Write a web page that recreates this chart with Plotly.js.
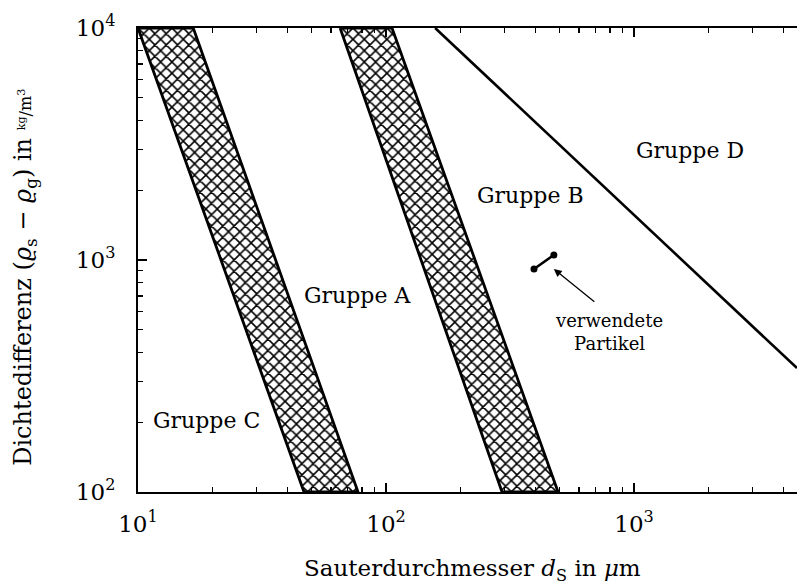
<!DOCTYPE html>
<html><head><meta charset="utf-8">
<script src="https://cdn.plot.ly/plotly-3.0.1.min.js"></script>
<style>html,body{margin:0;padding:0;background:#fff;}#chart{width:797px;height:585px;}</style>
</head><body><div id="chart"></div>
<script>
// Boundary between Gruppe C and A (hatched band), polygon corners
const bandCA_x = [10, 16.7, 77.1, 46.7];
const bandCA_y = [10000, 10000, 100, 100];
// Boundary between Gruppe A and B (hatched band)
const bandAB_x = [65.3, 105.7, 494, 293.6];
const bandAB_y = [10000, 10000, 100, 100];
// Boundary between Gruppe B and D
const lineBD_x = [157.8, 4540];
const lineBD_y = [10000, 342];
// Used particles
const partikel_x = [395, 475];
const partikel_y = [914, 1051];
// Axis ticks
const xMajor = [10, 100, 1000];
const xMajorText = ['10<sup>1</sup>', '10<sup>2</sup>', '10<sup>3</sup>'];
const yMajor = [100, 1000, 10000];
const yMajorText = ['10<sup>2</sup>', '10<sup>3</sup>', '10<sup>4</sup>'];
const minorMult = [2, 3, 4, 5, 6, 7, 8, 9];
const groupLabels = ['Gruppe C', 'Gruppe A', 'Gruppe B', 'Gruppe D'];
const xTitle = 'Sauterdurchmesser <i>d</i><sub>S</sub> in <i>μ</i>m';
const yTitle = 'Dichtedifferenz (<i>ϱ</i><sub>s</sub> − <i>ϱ</i><sub>g</sub>) in <span style="font-size:16px"><sup>kg</sup>/m<sup>3</sup></span>';
const noteText = 'verwendete<br>Partikel';

const xMinor = [];
[10, 100, 1000].forEach(d => minorMult.forEach(m => xMinor.push(d * m)));
const yMinor = [];
[100, 1000].forEach(d => minorMult.forEach(m => yMinor.push(d * m)));

const FONT = 'DejaVu Serif, Liberation Serif, serif';

function band(xs, ys) {
  return {
    x: xs.concat([xs[0]]), y: ys.concat([ys[0]]),
    mode: 'lines', fill: 'toself', fillcolor: 'white',
    fillpattern: {shape: 'x', fgcolor: 'black', bgcolor: 'white', size: 8, solidity: 0.35},
    line: {color: 'black', width: 2.8}, hoverinfo: 'skip', showlegend: false
  };
}

const traces = [
  band(bandCA_x, bandCA_y),
  band(bandAB_x, bandAB_y),
  {x: lineBD_x, y: lineBD_y, mode: 'lines', line: {color: 'black', width: 2.6}, showlegend: false},
  {x: partikel_x, y: partikel_y, mode: 'lines+markers', line: {color: 'black', width: 2.6},
   marker: {color: 'black', size: 7}, showlegend: false}
];

const lx = v => Math.log10(v);
const labelPos = [[18.8, 204], [76.4, 706], [381, 1905], [1683, 2978]];
const annotations = groupLabels.map((t, i) => ({
  x: lx(labelPos[i][0]), y: lx(labelPos[i][1]), xref: 'x', yref: 'y', text: t,
  showarrow: false, font: {family: FONT, size: 22, color: 'black'}
}));
annotations.push({
  x: lx(partikel_x[1]), y: lx(partikel_y[0]), xref: 'x', yref: 'y', text: '',
  showarrow: true, arrowhead: 2, arrowsize: 1.2, arrowwidth: 1.3, arrowcolor: 'black',
  ax: 42, ay: 34, standoff: 0
});
annotations.push({
  x: lx(792), y: lx(490), xref: 'x', yref: 'y', text: noteText,
  showarrow: false, font: {family: FONT, size: 18, color: 'black'}
});
annotations.push({
  x: 0.507, y: -0.168, xref: 'paper', yref: 'paper', text: xTitle, showarrow: false,
  xanchor: 'center', yanchor: 'middle', font: {family: FONT, size: 23, color: 'black'}
});
annotations.push({
  x: -0.172, y: 0.463, xref: 'paper', yref: 'paper', text: yTitle, showarrow: false, textangle: -90,
  xanchor: 'center', yanchor: 'middle', font: {family: FONT, size: 24, color: 'black'}
});

const axisCommon = {
  type: 'log', showgrid: false, zeroline: false, showline: true, linecolor: 'black', linewidth: 2,
  ticks: 'inside', ticklen: 9, tickwidth: 1.2, tickcolor: 'black',
  tickfont: {family: FONT, size: 23, color: 'black'},
  minor: {ticks: 'inside', ticklen: 5, tickwidth: 1.2, tickcolor: 'black', showgrid: false}
};

const layout = {
  width: 797, height: 585,
  margin: {l: 138, r: 0, t: 28, b: 93},
  paper_bgcolor: 'white', plot_bgcolor: 'white',
  showlegend: false,
  xaxis: Object.assign({}, axisCommon, {
    range: [1, lx(4540)], tickmode: 'array', tickvals: xMajor, ticktext: xMajorText,
    minor: Object.assign({}, axisCommon.minor, {tickvals: xMinor}),
    mirror: 'ticks', ticklabelstandoff: 10
  }),
  yaxis: Object.assign({}, axisCommon, {
    range: [2, 4], tickmode: 'array', tickvals: yMajor, ticktext: yMajorText,
    minor: Object.assign({}, axisCommon.minor, {tickvals: yMinor}),
    mirror: false, ticklabelstandoff: 16
  }),
  annotations: annotations
};

Plotly.newPlot('chart', traces, layout, {displayModeBar: false, staticPlot: true});
</script></body></html>
